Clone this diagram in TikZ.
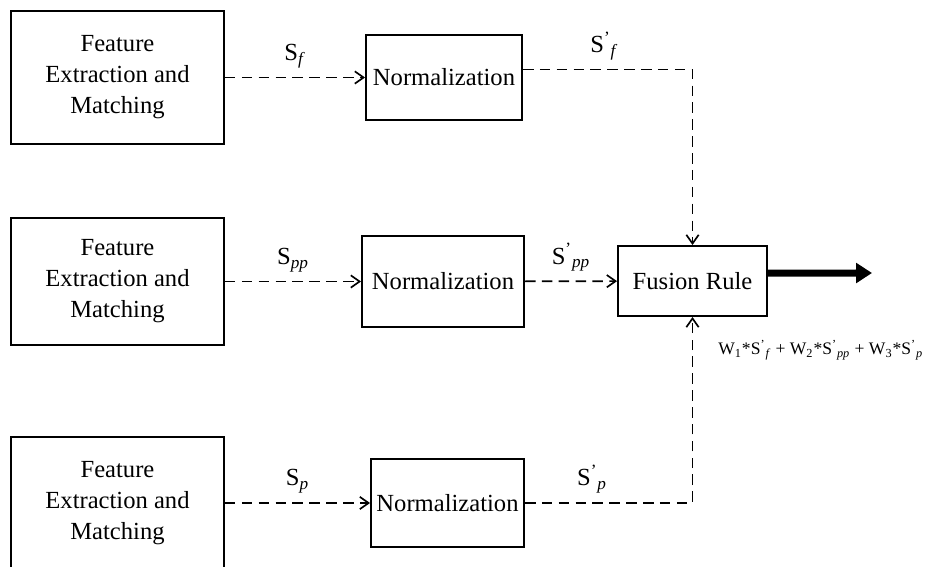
\documentclass[tikz,border=0pt]{standalone}
\usepackage{fontspec}
\setmainfont{Liberation Serif}
\usetikzlibrary{positioning, arrows.meta, calc}

\begin{document}
\begin{tikzpicture}[x=0.02cm, y=-0.02cm,
    every node/.style={font=\fontsize{14}{17.6}\selectfont},
    block/.style={draw, line width=1.1pt, rectangle, align=center, inner sep=0pt},
    link/.style={line width=0.95pt, dash pattern=on 6pt off 3.6pt, -{Straight Barb[length=5pt,width=7pt]}},
    lbl/.style={above, inner sep=5pt}
]
\useasboundingbox (0,0) rectangle (932,567);
\clip (0,0) rectangle (932,567);

\node[block, minimum width=4.26cm, minimum height=2.66cm] (fe1) at (117.5,77.5) {Feature\\Extraction and\\Matching};
\node[block, minimum width=4.26cm, minimum height=2.54cm] (fe2) at (117.5,281.5) {Feature\\Extraction and\\Matching};
\node[block, minimum width=4.26cm, minimum height=2.64cm] (fe3) at (117.5,503) {Feature\\Extraction and\\Matching};

\node[block, minimum width=3.12cm, minimum height=1.7cm] (nm1) at (444,77.5) {Normalization};
\node[block, minimum width=3.24cm, minimum height=1.82cm] (nm2) at (443,281.5) {Normalization};
\node[block, minimum width=3.06cm, minimum height=1.76cm] (nm3) at (447.5,503) {Normalization};

\node[block, minimum width=2.98cm, minimum height=1.4cm] (fr) at (692.5,281) {Fusion Rule};

\draw[link] (fe1) -- node[lbl] {S\textsubscript{\textit{f}}} (nm1);
\draw[link] (fe2) -- node[lbl] {S\textsubscript{\textit{pp}}} (nm2);
\draw[link] (fe3) -- node[lbl] {S\textsubscript{\textit{p}}} (nm3);

\draw[link] ([yshift=4.5pt]nm1.east) -| node[lbl, pos=0.24] {S\textsuperscript{'}\textsubscript{\textit{f}}} (fr.north);
\draw[link] (nm2) -- node[lbl] {S\textsuperscript{'}\textsubscript{\textit{pp}}} (fr);
\draw[link] (nm3.east) -| node[lbl, pos=0.2] {S\textsuperscript{'}\textsubscript{\textit{p}}} (fr.south);

\coordinate (out) at (872,273);
\draw[line width=4pt, -{Triangle[length=9pt,width=11pt]}] ([yshift=4.5pt]fr.east) -- (out);

\node[anchor=west, inner sep=0pt, font=\fontsize{10}{12}\selectfont] (rule) at (718,350)
    {W\textsubscript{1}*S\textsuperscript{'}\textsubscript{\textit{f}} + W\textsubscript{2}*S\textsuperscript{'}\textsubscript{\textit{pp}} + W\textsubscript{3}*S\textsuperscript{'}\textsubscript{\textit{p}}};
\end{tikzpicture}
\end{document}
